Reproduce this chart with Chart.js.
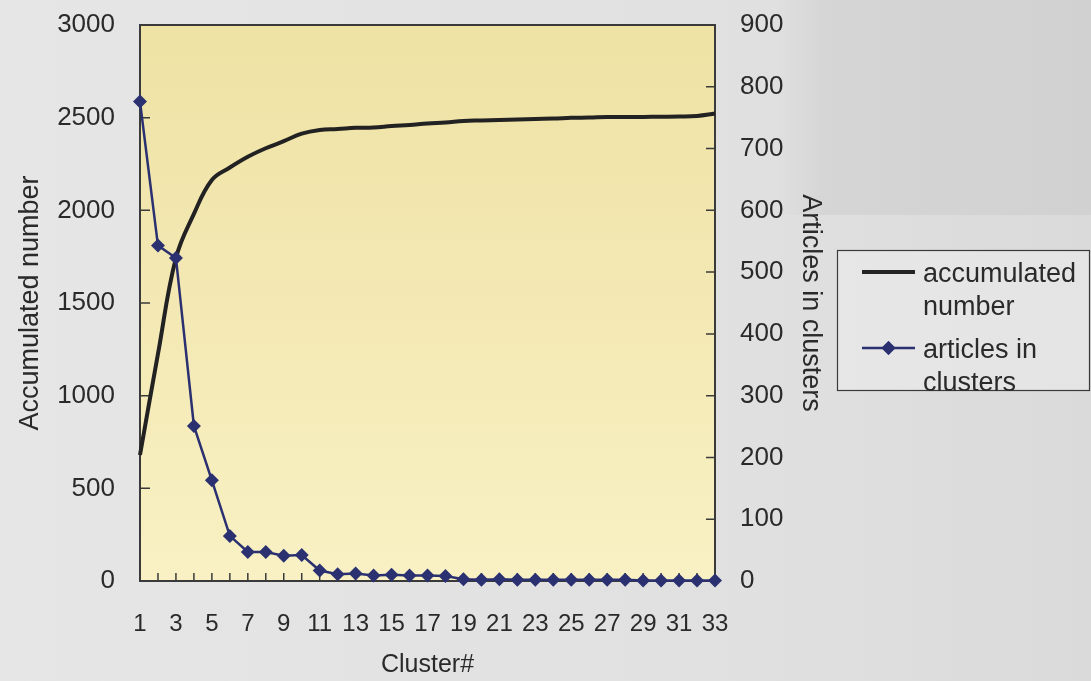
<!DOCTYPE html>
<html>
<head>
<meta charset="utf-8">
<title>Cluster sizes</title>
<script src="https://cdn.jsdelivr.net/npm/chart.js@4.4.1/dist/chart.umd.min.js"></script>
<style>
  html, body { margin: 0; padding: 0; }
  body { width: 1091px; height: 681px; overflow: hidden; background: #e2e2e2; }
  #c { display: block; }
</style>
</head>
<body>
<canvas id="c" width="1091" height="681"></canvas>
<script>
// Cluster numbers along the horizontal axis
const clusterLabels = ['1','2','3','4','5','6','7','8','9','10','11','12','13','14','15','16','17',
  '18','19','20','21','22','23','24','25','26','27','28','29','30','31','32','33'];

// Running total of articles (left axis)
const accumulatedNumber = [680, 1225, 1743, 1981, 2164, 2231, 2289, 2335, 2373, 2414, 2434, 2439, 2445,
  2447, 2455, 2461, 2469, 2474, 2482, 2485, 2488, 2490, 2493, 2495, 2499, 2501, 2504, 2504, 2504,
  2505, 2506, 2509, 2522];

// Articles per cluster (right axis)
const articlesInClusters = [776, 543, 523, 251, 163, 73, 47, 47, 41, 42, 17, 11, 12, 9, 10, 9, 9, 8,
  3, 2, 3, 2, 2, 2, 2, 2, 2, 2, 1, 1, 1, 1, 1];

const seriesNames = ['accumulated number', 'articles in clusters'];
const axisTitles = { x: 'Cluster#', left: 'Accumulated number', right: 'Articles in clusters' };
const leftAxisMax = 3000, leftAxisStep = 500;
const rightAxisMax = 900, rightAxisStep = 100;

const INK = '#2a2a2a';
const TEXT_FONT = '"Liberation Sans", Arial, sans-serif';
const plainNumber = (v) => String(v);

// Fixed axis band sizes; label overhang is already covered by the page margins
const fixWidth = (w) => (scale) => { scale.width = w; scale.paddingTop = 0; scale.paddingBottom = 0; };

// Paper tone behind everything and the yellow plot panel
const paperPlugin = {
  id: 'paper',
  beforeDraw(chart) {
    const { ctx, width, height, chartArea: a } = chart;
    ctx.save();
    const g = ctx.createLinearGradient(0, 0, width, 0);
    g.addColorStop(0, '#e6e6e6');
    g.addColorStop(0.7, '#e0e0e0');
    g.addColorStop(1, '#dadada');
    ctx.fillStyle = g;
    ctx.fillRect(0, 0, width, height);
    const s = ctx.createLinearGradient(a.right + 60, 0, a.right + 110, 0);
    s.addColorStop(0, 'rgba(0,0,0,0)');
    s.addColorStop(1, 'rgba(0,0,0,0.045)');
    ctx.fillStyle = s;
    ctx.fillRect(a.right + 60, 0, width - a.right - 60, 215);

    const p = ctx.createLinearGradient(0, a.top, 0, a.bottom);
    p.addColorStop(0, '#eee2a4');
    p.addColorStop(0.45, '#f3e8b2');
    p.addColorStop(1, '#f9f1c4');
    ctx.fillStyle = p;
    ctx.fillRect(a.left, a.top, a.right - a.left, a.bottom - a.top);
    ctx.restore();
  }
};

// Plot frame with tick marks pointing inward
const framePlugin = {
  id: 'frame',
  beforeDatasetsDraw(chart) {
    const { ctx, chartArea: a, scales } = chart;
    ctx.save();
    ctx.strokeStyle = '#3a3a3a';
    ctx.lineWidth = 1.5;
    ctx.beginPath();
    scales.y.ticks.forEach((t, i) => {
      const p = scales.y.getPixelForTick(i);
      ctx.moveTo(a.left, p); ctx.lineTo(a.left + 10, p);
    });
    scales.y1.ticks.forEach((t, i) => {
      const p = scales.y1.getPixelForTick(i);
      ctx.moveTo(a.right, p); ctx.lineTo(a.right - 9, p);
    });
    scales.x.ticks.forEach((t, i) => {
      const p = scales.x.getPixelForTick(i);
      ctx.moveTo(p, a.bottom); ctx.lineTo(p, a.bottom - 8);
    });
    ctx.stroke();
    ctx.lineWidth = 2;
    ctx.strokeRect(a.left, a.top, a.right - a.left, a.bottom - a.top);
    ctx.restore();
  }
};

// Boxed legend with word-wrapped series names
const boxLegendPlugin = {
  id: 'boxLegend',
  afterDraw(chart) {
    const { ctx } = chart;
    const box = { x: 837, y: 250, w: 252, h: 140 };
    const fontPx = 27, lineGap = 33, wrapWidth = 160;
    ctx.save();
    ctx.fillStyle = 'rgba(236,236,236,0.55)';
    ctx.fillRect(box.x, box.y, box.w, box.h);
    ctx.strokeStyle = '#3a3a3a';
    ctx.lineWidth = 1.2;
    ctx.strokeRect(box.x + 0.5, box.y + 0.5, box.w, box.h);
    ctx.font = fontPx + 'px ' + TEXT_FONT;
    ctx.textBaseline = 'alphabetic';
    ctx.textAlign = 'left';

    const wrap = (text) => {
      const words = text.split(' ');
      const lines = [];
      let cur = '';
      words.forEach(w => {
        const test = cur ? cur + ' ' + w : w;
        if (cur && ctx.measureText(test).width > wrapWidth) { lines.push(cur); cur = w; }
        else cur = test;
      });
      if (cur) lines.push(cur);
      return lines;
    };

    const entryMids = [272, 348];
    chart.data.datasets.forEach((ds, i) => {
      const yMid = entryMids[i];
      ctx.strokeStyle = ds.borderColor;
      ctx.lineWidth = ds.borderWidth;
      ctx.beginPath();
      ctx.moveTo(862, yMid); ctx.lineTo(915, yMid);
      ctx.stroke();
      if (ds.pointRadius > 0) {
        ctx.fillStyle = ds.pointBackgroundColor;
        Chart.helpers.drawPoint(ctx, { pointStyle: ds.pointStyle, radius: ds.pointRadius, borderWidth: 0 }, 888.5, yMid);
        ctx.fill();
      }
      ctx.fillStyle = INK;
      wrap(ds.label).forEach((line, k) => {
        ctx.fillText(line, 923, yMid + 10 + k * lineGap);
      });
    });
    ctx.restore();
  }
};

new Chart(document.getElementById('c'), {
  type: 'line',
  data: {
    labels: clusterLabels,
    datasets: [
      {
        label: seriesNames[0],
        data: accumulatedNumber,
        yAxisID: 'y',
        borderColor: '#222222',
        borderWidth: 4,
        pointRadius: 0,
        tension: 0.4,
        order: 1
      },
      {
        label: seriesNames[1],
        data: articlesInClusters,
        yAxisID: 'y1',
        borderColor: '#2b3170',
        backgroundColor: '#2b3170',
        pointBackgroundColor: '#2b3170',
        pointBorderWidth: 0,
        borderWidth: 2.5,
        pointStyle: 'rectRot',
        pointRadius: 7,
        tension: 0,
        clip: false,
        order: 0
      }
    ]
  },
  options: {
    responsive: false,
    animation: false,
    events: [],
    devicePixelRatio: 1,
    layout: { padding: { top: 25, right: 261, left: 0, bottom: 0 } },
    plugins: { legend: { display: false }, tooltip: { enabled: false } },
    scales: {
      x: {
        type: 'category',
        offset: false,
        grid: { display: false, drawTicks: false },
        border: { display: false },
        ticks: {
          autoSkip: false,
          maxRotation: 0,
          padding: 29,
          color: INK,
          font: { family: TEXT_FONT, size: 24 },
          callback(value, index) { return index % 2 === 0 ? this.getLabelForValue(value) : ''; }
        },
        title: {
          display: true, text: axisTitles.x, color: INK,
          font: { family: TEXT_FONT, size: 25 },
          padding: { top: 0, bottom: 1 }
        },
        afterFit(scale) { scale.height = 100; scale.paddingLeft = 0; scale.paddingRight = 0; }
      },
      y: {
        position: 'left',
        min: 0, max: leftAxisMax,
        grid: { display: false, drawTicks: false },
        border: { display: false },
        ticks: {
          stepSize: leftAxisStep, padding: 25, color: INK,
          font: { family: TEXT_FONT, size: 26 },
          callback: plainNumber
        },
        title: {
          display: true, text: axisTitles.left, color: INK,
          font: { family: TEXT_FONT, size: 27 },
          padding: { top: 14, bottom: 0 }
        },
        afterFit: fixWidth(140)
      },
      y1: {
        position: 'right',
        min: 0, max: rightAxisMax,
        grid: { display: false, drawTicks: false },
        border: { display: false },
        ticks: {
          stepSize: rightAxisStep, padding: 25, color: INK,
          font: { family: TEXT_FONT, size: 26 },
          callback: plainNumber
        },
        title: {
          display: true, text: axisTitles.right, color: INK,
          font: { family: TEXT_FONT, size: 27 },
          padding: { top: 3, bottom: 0 }
        },
        afterFit: fixWidth(115)
      }
    }
  },
  plugins: [paperPlugin, framePlugin, boxLegendPlugin]
});
</script>
</body>
</html>
